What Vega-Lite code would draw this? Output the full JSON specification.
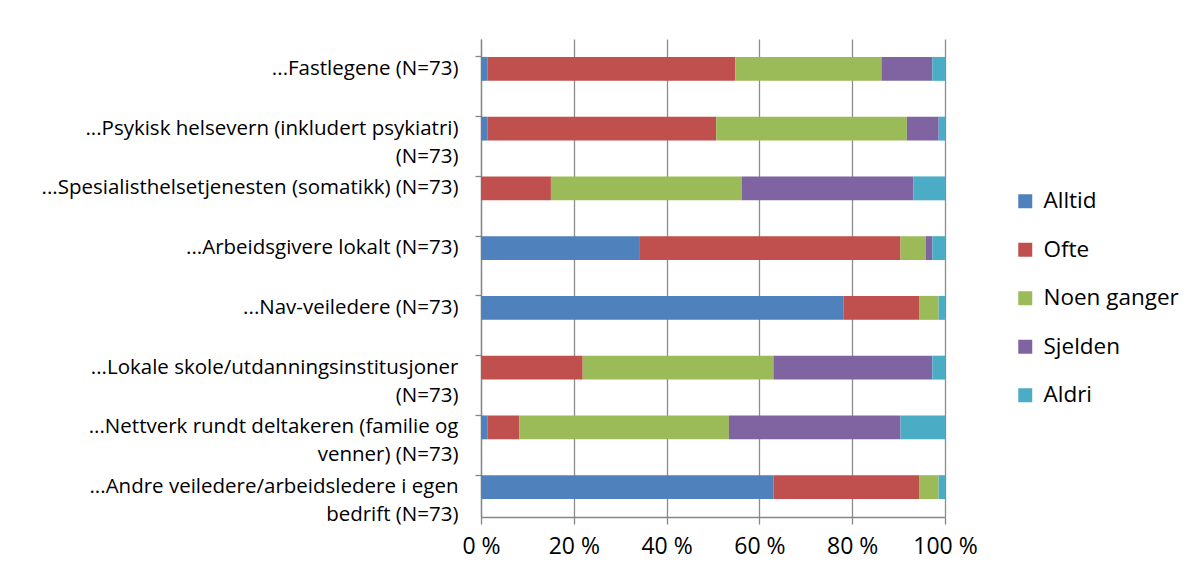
{
  "$schema": "https://vega.github.io/schema/vega-lite/v6.json",
  "width": 464,
  "height": 478,
  "autosize": {"type": "none"},
  "padding": {"left": 481, "top": 39, "right": 249, "bottom": 59},
  "background": "white",
  "data": {
    "values": [
      {"cat": "...Fastlegene (N=73)", "resp": "Alltid", "rank": 1, "pct": 1.37},
      {"cat": "...Fastlegene (N=73)", "resp": "Ofte", "rank": 2, "pct": 53.42},
      {"cat": "...Fastlegene (N=73)", "resp": "Noen ganger", "rank": 3, "pct": 31.51},
      {"cat": "...Fastlegene (N=73)", "resp": "Sjelden", "rank": 4, "pct": 10.96},
      {"cat": "...Fastlegene (N=73)", "resp": "Aldri", "rank": 5, "pct": 2.74},
      {"cat": "...Psykisk helsevern (inkludert psykiatri)|(N=73)", "resp": "Alltid", "rank": 1, "pct": 1.37},
      {"cat": "...Psykisk helsevern (inkludert psykiatri)|(N=73)", "resp": "Ofte", "rank": 2, "pct": 49.32},
      {"cat": "...Psykisk helsevern (inkludert psykiatri)|(N=73)", "resp": "Noen ganger", "rank": 3, "pct": 41.1},
      {"cat": "...Psykisk helsevern (inkludert psykiatri)|(N=73)", "resp": "Sjelden", "rank": 4, "pct": 6.85},
      {"cat": "...Psykisk helsevern (inkludert psykiatri)|(N=73)", "resp": "Aldri", "rank": 5, "pct": 1.36},
      {"cat": "...Spesialisthelsetjenesten (somatikk) (N=73)", "resp": "Alltid", "rank": 1, "pct": 0},
      {"cat": "...Spesialisthelsetjenesten (somatikk) (N=73)", "resp": "Ofte", "rank": 2, "pct": 15.07},
      {"cat": "...Spesialisthelsetjenesten (somatikk) (N=73)", "resp": "Noen ganger", "rank": 3, "pct": 41.1},
      {"cat": "...Spesialisthelsetjenesten (somatikk) (N=73)", "resp": "Sjelden", "rank": 4, "pct": 36.99},
      {"cat": "...Spesialisthelsetjenesten (somatikk) (N=73)", "resp": "Aldri", "rank": 5, "pct": 6.84},
      {"cat": "...Arbeidsgivere lokalt (N=73)", "resp": "Alltid", "rank": 1, "pct": 34.25},
      {"cat": "...Arbeidsgivere lokalt (N=73)", "resp": "Ofte", "rank": 2, "pct": 56.16},
      {"cat": "...Arbeidsgivere lokalt (N=73)", "resp": "Noen ganger", "rank": 3, "pct": 5.48},
      {"cat": "...Arbeidsgivere lokalt (N=73)", "resp": "Sjelden", "rank": 4, "pct": 1.37},
      {"cat": "...Arbeidsgivere lokalt (N=73)", "resp": "Aldri", "rank": 5, "pct": 2.74},
      {"cat": "...Nav-veiledere (N=73)", "resp": "Alltid", "rank": 1, "pct": 78.08},
      {"cat": "...Nav-veiledere (N=73)", "resp": "Ofte", "rank": 2, "pct": 16.44},
      {"cat": "...Nav-veiledere (N=73)", "resp": "Noen ganger", "rank": 3, "pct": 4.11},
      {"cat": "...Nav-veiledere (N=73)", "resp": "Sjelden", "rank": 4, "pct": 0},
      {"cat": "...Nav-veiledere (N=73)", "resp": "Aldri", "rank": 5, "pct": 1.37},
      {"cat": "...Lokale skole/utdanningsinstitusjoner|(N=73)", "resp": "Alltid", "rank": 1, "pct": 0},
      {"cat": "...Lokale skole/utdanningsinstitusjoner|(N=73)", "resp": "Ofte", "rank": 2, "pct": 21.92},
      {"cat": "...Lokale skole/utdanningsinstitusjoner|(N=73)", "resp": "Noen ganger", "rank": 3, "pct": 41.1},
      {"cat": "...Lokale skole/utdanningsinstitusjoner|(N=73)", "resp": "Sjelden", "rank": 4, "pct": 34.25},
      {"cat": "...Lokale skole/utdanningsinstitusjoner|(N=73)", "resp": "Aldri", "rank": 5, "pct": 2.73},
      {"cat": "...Nettverk rundt deltakeren (familie og|venner) (N=73)", "resp": "Alltid", "rank": 1, "pct": 1.37},
      {"cat": "...Nettverk rundt deltakeren (familie og|venner) (N=73)", "resp": "Ofte", "rank": 2, "pct": 6.85},
      {"cat": "...Nettverk rundt deltakeren (familie og|venner) (N=73)", "resp": "Noen ganger", "rank": 3, "pct": 45.21},
      {"cat": "...Nettverk rundt deltakeren (familie og|venner) (N=73)", "resp": "Sjelden", "rank": 4, "pct": 36.99},
      {"cat": "...Nettverk rundt deltakeren (familie og|venner) (N=73)", "resp": "Aldri", "rank": 5, "pct": 9.58},
      {"cat": "...Andre veiledere/arbeidsledere i egen|bedrift (N=73)", "resp": "Alltid", "rank": 1, "pct": 63.01},
      {"cat": "...Andre veiledere/arbeidsledere i egen|bedrift (N=73)", "resp": "Ofte", "rank": 2, "pct": 31.51},
      {"cat": "...Andre veiledere/arbeidsledere i egen|bedrift (N=73)", "resp": "Noen ganger", "rank": 3, "pct": 4.11},
      {"cat": "...Andre veiledere/arbeidsledere i egen|bedrift (N=73)", "resp": "Sjelden", "rank": 4, "pct": 0},
      {"cat": "...Andre veiledere/arbeidsledere i egen|bedrift (N=73)", "resp": "Aldri", "rank": 5, "pct": 1.37}
    ]
  },
  "mark": {"type": "bar"},
  "encoding": {
    "y": {
      "field": "cat",
      "type": "nominal",
      "sort": null,
      "scale": {"paddingInner": 0.6, "paddingOuter": 0.3},
      "axis": {
        "title": null,
        "labelExpr": "split(datum.label, '|')",
        "labelFont": "Open Sans",
        "labelFontSize": 20.5,
        "labelColor": "#000000",
        "labelLineHeight": 28,
        "labelLimit": 0,
        "labelPadding": 17,
        "bandPosition": 0,
        "tickSize": 6,
        "tickColor": "#868686",
        "tickWidth": 1.3,
        "domainColor": "#868686",
        "domainWidth": 1.3,
        "grid": false
      }
    },
    "x": {
      "field": "pct",
      "type": "quantitative",
      "stack": "zero",
      "scale": {"domain": [0, 100], "nice": false},
      "axis": {
        "title": null,
        "values": [0, 20, 40, 60, 80, 100],
        "labelExpr": "datum.value + ' %'",
        "labelFont": "Open Sans",
        "labelFontSize": 23,
        "labelColor": "#000000",
        "labelPadding": 11,
        "labelFlush": false,
        "tickSize": 7,
        "tickColor": "#868686",
        "tickWidth": 1.3,
        "domainColor": "#868686",
        "domainWidth": 1.3,
        "grid": true,
        "gridColor": "#8c8c8c",
        "gridWidth": 1.3
      }
    },
    "color": {
      "field": "resp",
      "type": "nominal",
      "scale": {
        "domain": ["Alltid", "Ofte", "Noen ganger", "Sjelden", "Aldri"],
        "range": ["#4F81BD", "#C0504D", "#9BBB59", "#8064A2", "#4BACC6"]
      },
      "legend": {
        "title": null,
        "orient": "none",
        "legendX": 533,
        "legendY": 151,
        "symbolType": "square",
        "symbolSize": 196,
        "symbolStrokeWidth": 0,
        "labelFont": "Open Sans",
        "labelFontSize": 22.5,
        "labelColor": "#000000",
        "labelOffset": 7,
        "rowPadding": 25.5
      }
    },
    "order": {"field": "rank", "type": "quantitative"}
  },
  "config": {"view": {"stroke": null}}
}
